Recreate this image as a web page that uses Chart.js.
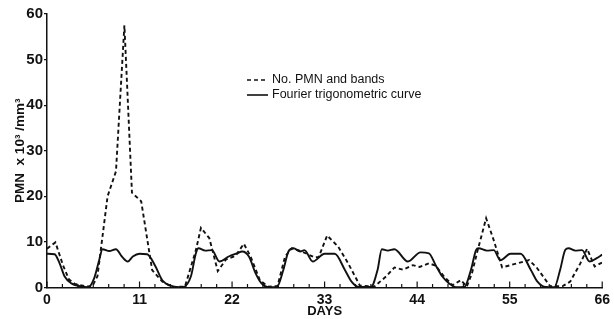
<!DOCTYPE html>
<html>
<head>
<meta charset="utf-8">
<script src="https://cdn.jsdelivr.net/npm/chart.js@4"></script>
<style>
  html, body { margin: 0; padding: 0; background: #fff; }
  #wrap { width: 614px; height: 319px; }
</style>
</head>
<body>
<div id="wrap"><canvas id="myChart" width="614" height="319"></canvas></div>
<script>
// observed counts (dashed)
var pmnDays = [0, 1, 1.9, 2.6, 3.3, 4.7, 5.4, 6, 7.2, 8.2, 9.2, 10.1, 11.2, 12.5, 13.7, 14.9, 16.4, 17.7, 18.3, 19.3, 20.3, 21.3, 22.4, 23.4, 24.2, 25.3, 26.3, 27.4, 28.3, 29.1, 30.3, 31.8, 32.3, 33.3, 34.6, 35.8, 37.2, 38.9, 40.3, 41.3, 42.3, 43.5, 44.3, 45.4, 46.2, 47.2, 48.2, 49.2, 49.9, 50.5, 51.2, 52.2, 53.1, 54.1, 55.9, 57.3, 58.2, 59.8, 61.3, 62.2, 63.4, 64.2, 65.1, 66];
var pmnValues = [8.5, 9.9, 4.9, 1.8, 0.8, 0.2, 0.3, 2.5, 20, 25.5, 57.5, 20.8, 18.9, 3.8, 1.3, 0.1, 0.2, 8.2, 13.1, 10.8, 3.6, 6.2, 6.9, 9.6, 6.8, 1.6, 0.2, 0.3, 6.8, 8.6, 7.9, 6.6, 6.7, 11.4, 9, 5.3, 0.4, 0.2, 2.4, 4.4, 3.9, 4.9, 4.5, 5.3, 4.8, 2.4, 0.5, 1.6, 0.2, 3, 8.2, 15.2, 10.4, 4.4, 5.3, 6, 4.4, 0.3, 0.3, 1.3, 5.3, 8.5, 4.6, 5.5];

// fourier fit (solid)
var fitDays = [0, 0.9, 1.5, 2.1, 2.9, 3.9, 4.9, 5.6, 6.2, 6.6, 7.4, 8.2, 8.9, 9.6, 10.2, 11, 11.9, 12.9, 13.7, 14.9, 16.1, 17.1, 17.7, 18, 18.8, 19.6, 20.5, 21.6, 22.6, 23.2, 24, 24.8, 25.5, 26.3, 27.3, 28.1, 28.7, 29.3, 30.1, 30.6, 31.6, 33, 34.2, 35.4, 36.2, 37.1, 38.5, 39.3, 39.8, 40.5, 41.3, 42.9, 44.4, 45.4, 46.2, 47, 47.8, 48.6, 49.6, 50.4, 51, 51.3, 52.3, 53.1, 53.9, 55.1, 56.3, 57.5, 58.3, 59.3, 60.3, 61, 61.6, 62, 62.8, 63.6, 64.5, 65.3, 66];
var fitValues = [7.4, 7.3, 5.3, 2.4, 0.9, 0.3, 0.05, 2, 6, 8.4, 8, 8.4, 6.8, 5.7, 6.8, 7.4, 7.3, 4.6, 1.6, 0.3, 0.05, 2.4, 7.5, 8.6, 8.1, 8.2, 5.7, 6.8, 7.5, 7.9, 6.8, 3.1, 0.9, 0.05, 0.05, 3.9, 7.9, 8.6, 7.9, 8.2, 5.7, 7.4, 7.4, 3.9, 1.3, 0.1, 0.1, 3.9, 8.4, 8.1, 8.4, 5.7, 7.7, 7.5, 4.9, 2.4, 0.9, 0.05, 0.1, 3.9, 8.2, 8.6, 8.1, 8.2, 6, 7.4, 7.4, 3.9, 1.3, 0.1, 0.05, 3.9, 8.2, 8.6, 8.1, 8.2, 5.7, 6.4, 7.2];

var dayLabels = [0, 11, 22, 33, 44, 55, 66];
var seriesNames = ["No. PMN and bands", "Fourier trigonometric curve"];

function toPoints(xs, ys) {
  return xs.map(function (d, i) { return {x: d, y: ys[i]}; });
}

var ink = "#111";

var decorations = {
  id: "decorations",
  afterDraw: function (chart) {
    var ctx = chart.ctx;
    var xs = chart.scales.x;
    var area = chart.chartArea;
    ctx.save();
    ctx.strokeStyle = ink;
    ctx.lineWidth = 1.2;
    // small inward ticks along the day axis
    for (var i = 0; i <= 36; i++) {
      var px = xs.getPixelForValue(i * 11 / 6);
      var len = i % 6 === 0 ? 6 : 3.5;
      ctx.beginPath();
      ctx.moveTo(px, area.bottom);
      ctx.lineTo(px, area.bottom - len);
      ctx.stroke();
    }
    // legend
    ctx.lineWidth = 1.6;
    ctx.setLineDash([4, 3]);
    ctx.beginPath(); ctx.moveTo(247, 80); ctx.lineTo(268, 80); ctx.stroke();
    ctx.setLineDash([]);
    ctx.beginPath(); ctx.moveTo(247, 95); ctx.lineTo(268, 95); ctx.stroke();
    ctx.fillStyle = ink;
    ctx.font = "12.5px 'Liberation Sans'";
    ctx.textBaseline = "middle";
    ctx.fillText(seriesNames[0], 272, 80);
    ctx.fillText(seriesNames[1], 272, 95);
    ctx.restore();
  }
};

new Chart("myChart", {
  type: "line",
  data: {
    datasets: [{
      label: seriesNames[0],
      data: toPoints(pmnDays, pmnValues),
      borderColor: ink,
      borderWidth: 1.9,
      borderDash: [4, 3],
      pointRadius: 0,
      tension: 0
    }, {
      label: seriesNames[1],
      data: toPoints(fitDays, fitValues),
      borderColor: ink,
      borderWidth: 1.9,
      pointRadius: 0,
      cubicInterpolationMode: "monotone"
    }]
  },
  options: {
    responsive: false,
    animation: false,
    layout: {padding: {left: 0, right: 8, top: 14, bottom: 0}},
    plugins: {legend: {display: false}, tooltip: {enabled: false}},
    scales: {
      x: {
        type: "linear",
        min: 0,
        max: 66,
        afterBuildTicks: function (s) { s.ticks = dayLabels.map(function (v) { return {value: v}; }); },
        afterFit: function (s) { s.height = 31.5; },
        grid: {display: false, drawTicks: false},
        border: {display: true, color: ink, width: 1.5},
        ticks: {color: ink, padding: 4, maxRotation: 0, autoSkip: false,
                font: {family: "'Liberation Sans'", size: 14, weight: "bold"}},
        title: {display: true, text: "DAYS", color: ink, padding: 0,
                font: {family: "'Liberation Sans'", size: 13, weight: "bold"}}
      },
      y: {
        min: 0,
        max: 60,
        afterFit: function (s) { s.width = 47; },
        grid: {display: true, drawOnChartArea: false, drawTicks: true, tickLength: 3, color: ink, lineWidth: 1.2},
        border: {display: true, color: ink, width: 1.5},
        ticks: {stepSize: 10, color: ink, padding: 1,
                font: {family: "'Liberation Sans'", size: 15, weight: "bold"}},
        title: {display: true, text: "PMN  x 10\u00b3 /mm\u00b3", color: ink, padding: {top: 12, bottom: 0},
                font: {family: "'Liberation Sans'", size: 13.5, weight: "bold"}}
      }
    }
  },
  plugins: [decorations]
});
</script>
</body>
</html>
